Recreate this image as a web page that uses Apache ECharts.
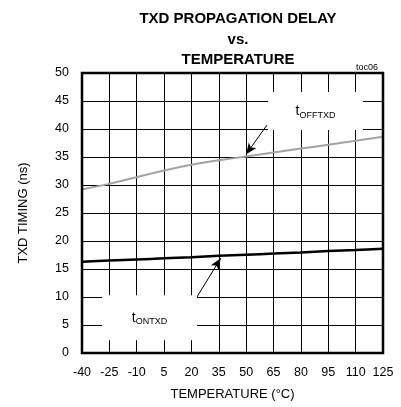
<!DOCTYPE html>
<html><head><meta charset="utf-8">
<script src="https://cdn.jsdelivr.net/npm/echarts@6/dist/echarts.min.js"></script>
<style>html,body{margin:0;padding:0;background:#fff}#c{width:401px;height:407px}</style>
</head><body><div id="c"></div>
<script>
const temps = [-40, -25, -10, 5, 20, 35, 50, 65, 80, 95, 110, 125];
const tOff = [29.2, 30.2, 31.4, 32.6, 33.6, 34.4, 35.1, 35.8, 36.5, 37.2, 37.9, 38.6];
const tOn = [16.3, 16.5, 16.7, 16.9, 17.1, 17.35, 17.55, 17.75, 17.95, 18.2, 18.4, 18.6];
const yTicks = [0, 5, 10, 15, 20, 25, 30, 35, 40, 45, 50];

const FONT = '"Liberation Sans", Arial, sans-serif';
const chart = echarts.init(document.getElementById('c'));
const pair = (xs, ys) => xs.map((x, i) => [x, ys[i]]);

const labelRich = {
  t: {fontFamily: FONT, fontSize: 14, color: '#000'},
  s: {fontFamily: FONT, fontSize: 9, color: '#000', padding: [8, 0, 0, 0]}
};

chart.setOption({
  animation: false,
  backgroundColor: '#fff',
  title: [{
    text: 'TXD PROPAGATION DELAY\nvs.\nTEMPERATURE',
    left: 233, top: 4, textAlign: 'center',
    textStyle: {fontFamily: FONT, fontWeight: 'bold', fontSize: 15, lineHeight: 20.5, color: '#000'}
  }, {
    text: 'toc06', right: 18, top: 58,
    textStyle: {fontFamily: FONT, fontWeight: 'normal', fontSize: 9, color: '#000'}
  }],
  grid: {left: 82, right: 18, top: 73, bottom: 54},
  xAxis: {
    type: 'value', min: -40, max: 125, interval: 15,
    name: 'TEMPERATURE (°C)', nameLocation: 'middle', nameGap: 35,
    nameTextStyle: {fontFamily: FONT, fontSize: 13, color: '#000'},
    axisLine: {show: false},
    axisTick: {show: false},
    axisLabel: {fontFamily: FONT, fontSize: 12.5, color: '#000', margin: 13},
    splitLine: {show: true, lineStyle: {color: '#000', width: 1}}
  },
  yAxis: {
    type: 'value', min: yTicks[0], max: yTicks[yTicks.length - 1], interval: 5,
    name: 'TXD TIMING (ns)', nameLocation: 'middle', nameGap: 52, nameRotate: 90,
    nameTextStyle: {fontFamily: FONT, fontSize: 13, color: '#000'},
    axisLine: {show: false},
    axisTick: {show: false},
    axisLabel: {fontFamily: FONT, fontSize: 12.5, color: '#000', margin: 13},
    splitLine: {show: true, lineStyle: {color: '#000', width: 1}}
  },
  series: [{
    type: 'line', data: pair(temps, tOff), smooth: 0.3, showSymbol: false,
    lineStyle: {color: '#a3a3a3', width: 2}, z: 3,
    markPoint: {
      symbol: 'rect', symbolSize: [95, 38], silent: true,
      itemStyle: {color: '#fff'},
      label: {show: true, position: 'inside', formatter: '{t|t}{s|OFFTXD}', rich: labelRich},
      data: [{coord: [88, 43.2]}]
    },
    markLine: {
      silent: true, symbol: ['none', 'arrow'], symbolSize: [7, 11],
      lineStyle: {color: '#000', width: 1, type: 'solid'},
      label: {show: false},
      data: [[{coord: [61.4, 40.7]}, {coord: [50, 35.5]}]]
    }
  }, {
    type: 'line', data: pair(temps, tOn), smooth: 0.3, showSymbol: false,
    lineStyle: {color: '#000', width: 2.5}, z: 4,
    markPoint: {
      symbol: 'rect', symbolSize: [95, 45], silent: true,
      itemStyle: {color: '#fff'},
      label: {show: true, position: 'inside', formatter: '{t|t}{s|ONTXD}', rich: labelRich},
      data: [{coord: [-3, 6.3]}]
    },
    markLine: {
      silent: true, symbol: ['none', 'arrow'], symbolSize: [7, 11],
      lineStyle: {color: '#000', width: 1, type: 'solid'},
      label: {show: false},
      data: [[{coord: [23, 10]}, {coord: [36, 16.9]}]]
    }
  }]
});

const p0 = chart.convertToPixel({gridIndex: 0}, [-40, 0]);
const p1 = chart.convertToPixel({gridIndex: 0}, [125, 50]);
chart.setOption({
  graphic: [{
    type: 'rect', z: 100, silent: true,
    shape: {x: p0[0], y: p1[1], width: p1[0] - p0[0], height: p0[1] - p1[1]},
    style: {fill: 'none', stroke: '#000', lineWidth: 2.5}
  }]
});
</script></body></html>
